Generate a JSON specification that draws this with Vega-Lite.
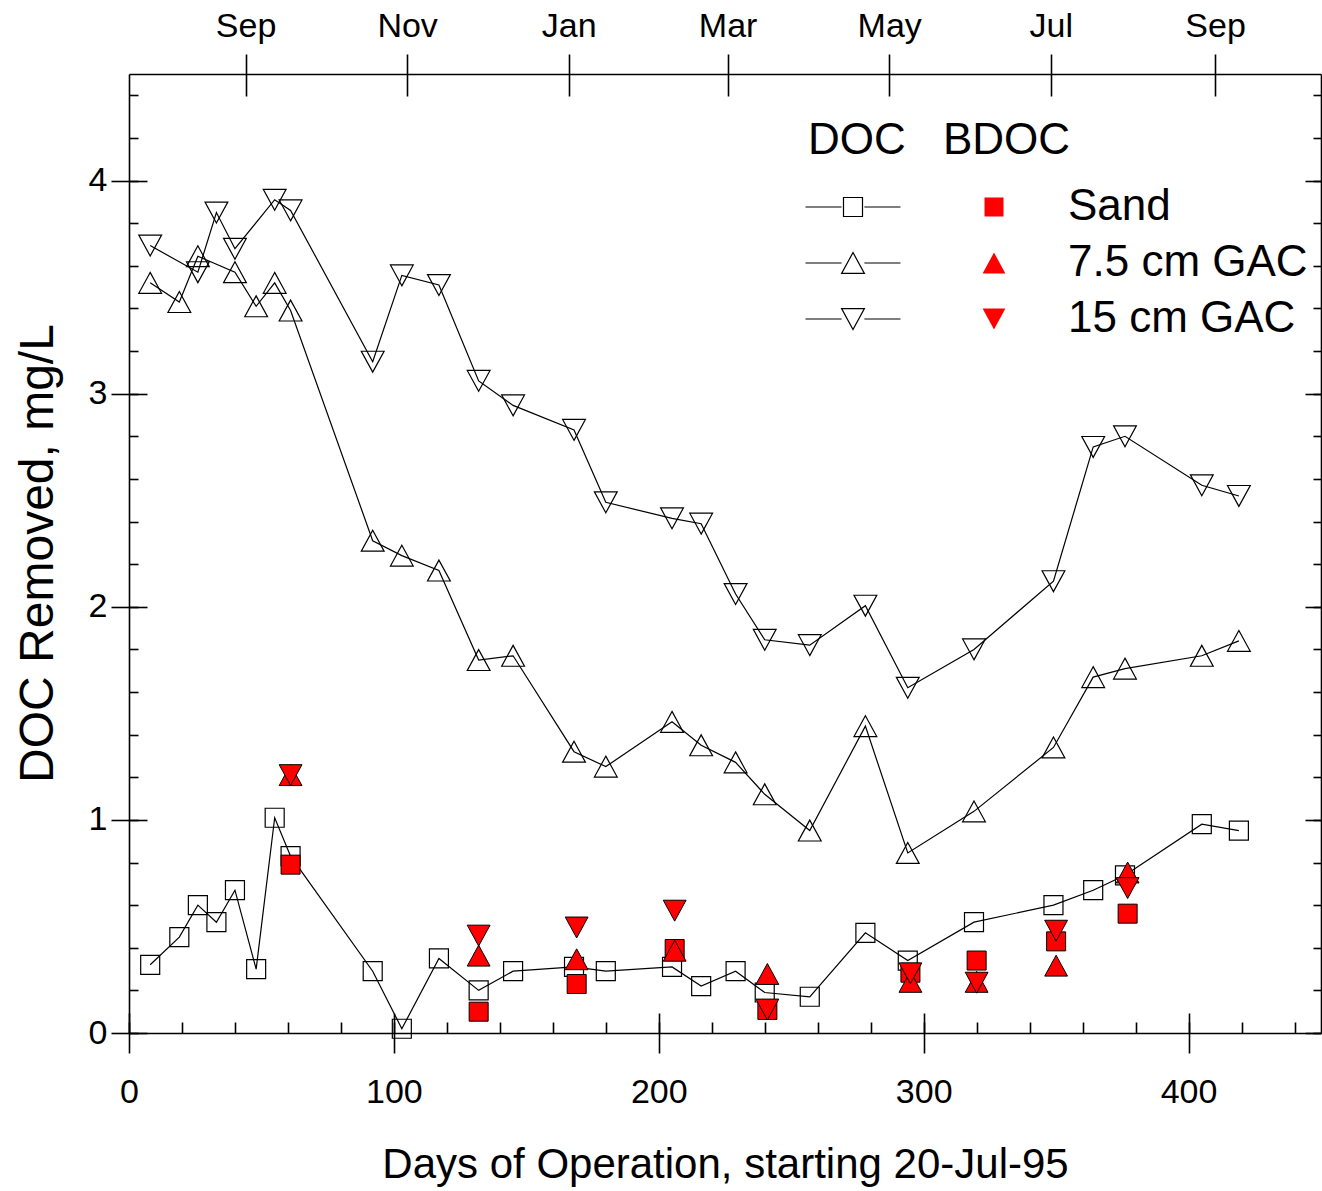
{
  "$schema": "https://vega.github.io/schema/vega-lite/v6.json",
  "width": 1192,
  "height": 959,
  "autosize": {"type": "none"},
  "padding": {"left": 129, "top": 74, "right": 1, "bottom": 158},
  "background": "white",
  "config": {
    "view": {"stroke": null},
    "font": "Liberation Sans",
    "axis": {
      "labelFont": "Liberation Sans",
      "titleFont": "Liberation Sans",
      "labelColor": "black",
      "titleColor": "black",
      "domainColor": "black",
      "domainWidth": 1.6,
      "tickColor": "black",
      "tickWidth": 1.6,
      "grid": false,
      "labelOverlap": false,
      "labelFlush": false,
      "titleFontWeight": "normal"
    },
    "legend": {
      "labelFont": "Liberation Sans",
      "titleFont": "Liberation Sans",
      "labelColor": "black",
      "titleColor": "black",
      "titleFontWeight": "normal",
      "padding": 0
    }
  },
  "datasets": {
    "doc": [
      {"day": 8, "filter": "Sand", "doc": 0.32},
      {"day": 19, "filter": "Sand", "doc": 0.45},
      {"day": 26, "filter": "Sand", "doc": 0.60},
      {"day": 33, "filter": "Sand", "doc": 0.52},
      {"day": 40, "filter": "Sand", "doc": 0.67},
      {"day": 48, "filter": "Sand", "doc": 0.30},
      {"day": 55, "filter": "Sand", "doc": 1.01},
      {"day": 61, "filter": "Sand", "doc": 0.83},
      {"day": 92, "filter": "Sand", "doc": 0.29},
      {"day": 103, "filter": "Sand", "doc": 0.02},
      {"day": 117, "filter": "Sand", "doc": 0.35},
      {"day": 132, "filter": "Sand", "doc": 0.20},
      {"day": 145, "filter": "Sand", "doc": 0.29},
      {"day": 168, "filter": "Sand", "doc": 0.31},
      {"day": 180, "filter": "Sand", "doc": 0.29},
      {"day": 205, "filter": "Sand", "doc": 0.31},
      {"day": 216, "filter": "Sand", "doc": 0.22},
      {"day": 229, "filter": "Sand", "doc": 0.29},
      {"day": 240, "filter": "Sand", "doc": 0.19},
      {"day": 257, "filter": "Sand", "doc": 0.17},
      {"day": 278, "filter": "Sand", "doc": 0.47},
      {"day": 294, "filter": "Sand", "doc": 0.34},
      {"day": 319, "filter": "Sand", "doc": 0.52},
      {"day": 349, "filter": "Sand", "doc": 0.60},
      {"day": 364, "filter": "Sand", "doc": 0.67},
      {"day": 376, "filter": "Sand", "doc": 0.74},
      {"day": 405, "filter": "Sand", "doc": 0.98},
      {"day": 419, "filter": "Sand", "doc": 0.95},
      {"day": 8, "filter": "7.5 cm GAC", "doc": 3.52},
      {"day": 19, "filter": "7.5 cm GAC", "doc": 3.43},
      {"day": 26, "filter": "7.5 cm GAC", "doc": 3.645},
      {"day": 40, "filter": "7.5 cm GAC", "doc": 3.57},
      {"day": 48, "filter": "7.5 cm GAC", "doc": 3.41},
      {"day": 55, "filter": "7.5 cm GAC", "doc": 3.52},
      {"day": 61, "filter": "7.5 cm GAC", "doc": 3.39},
      {"day": 92, "filter": "7.5 cm GAC", "doc": 2.31},
      {"day": 103, "filter": "7.5 cm GAC", "doc": 2.24},
      {"day": 117, "filter": "7.5 cm GAC", "doc": 2.17},
      {"day": 132, "filter": "7.5 cm GAC", "doc": 1.75},
      {"day": 145, "filter": "7.5 cm GAC", "doc": 1.77},
      {"day": 168, "filter": "7.5 cm GAC", "doc": 1.32},
      {"day": 180, "filter": "7.5 cm GAC", "doc": 1.25},
      {"day": 205, "filter": "7.5 cm GAC", "doc": 1.46},
      {"day": 216, "filter": "7.5 cm GAC", "doc": 1.35},
      {"day": 229, "filter": "7.5 cm GAC", "doc": 1.27},
      {"day": 240, "filter": "7.5 cm GAC", "doc": 1.12},
      {"day": 257, "filter": "7.5 cm GAC", "doc": 0.95},
      {"day": 278, "filter": "7.5 cm GAC", "doc": 1.44},
      {"day": 294, "filter": "7.5 cm GAC", "doc": 0.845},
      {"day": 319, "filter": "7.5 cm GAC", "doc": 1.04},
      {"day": 349, "filter": "7.5 cm GAC", "doc": 1.34},
      {"day": 364, "filter": "7.5 cm GAC", "doc": 1.67},
      {"day": 376, "filter": "7.5 cm GAC", "doc": 1.71},
      {"day": 405, "filter": "7.5 cm GAC", "doc": 1.77},
      {"day": 419, "filter": "7.5 cm GAC", "doc": 1.84},
      {"day": 8, "filter": "15 cm GAC", "doc": 3.695},
      {"day": 26, "filter": "15 cm GAC", "doc": 3.57},
      {"day": 33, "filter": "15 cm GAC", "doc": 3.85},
      {"day": 40, "filter": "15 cm GAC", "doc": 3.68},
      {"day": 55, "filter": "15 cm GAC", "doc": 3.91},
      {"day": 61, "filter": "15 cm GAC", "doc": 3.86},
      {"day": 92, "filter": "15 cm GAC", "doc": 3.15},
      {"day": 103, "filter": "15 cm GAC", "doc": 3.555},
      {"day": 117, "filter": "15 cm GAC", "doc": 3.51},
      {"day": 132, "filter": "15 cm GAC", "doc": 3.06},
      {"day": 145, "filter": "15 cm GAC", "doc": 2.945},
      {"day": 168, "filter": "15 cm GAC", "doc": 2.83},
      {"day": 180, "filter": "15 cm GAC", "doc": 2.49},
      {"day": 205, "filter": "15 cm GAC", "doc": 2.415},
      {"day": 216, "filter": "15 cm GAC", "doc": 2.39},
      {"day": 229, "filter": "15 cm GAC", "doc": 2.06},
      {"day": 240, "filter": "15 cm GAC", "doc": 1.845},
      {"day": 257, "filter": "15 cm GAC", "doc": 1.82},
      {"day": 278, "filter": "15 cm GAC", "doc": 2.005},
      {"day": 294, "filter": "15 cm GAC", "doc": 1.62},
      {"day": 319, "filter": "15 cm GAC", "doc": 1.80},
      {"day": 349, "filter": "15 cm GAC", "doc": 2.12},
      {"day": 364, "filter": "15 cm GAC", "doc": 2.75},
      {"day": 376, "filter": "15 cm GAC", "doc": 2.80},
      {"day": 405, "filter": "15 cm GAC", "doc": 2.57},
      {"day": 419, "filter": "15 cm GAC", "doc": 2.52}
    ],
    "bdoc": [
      {"day": 61, "filter": "Sand", "bdoc": 0.79},
      {"day": 61, "filter": "7.5 cm GAC", "bdoc": 1.21},
      {"day": 61, "filter": "15 cm GAC", "bdoc": 1.21},
      {"day": 132, "filter": "Sand", "bdoc": 0.10},
      {"day": 132, "filter": "7.5 cm GAC", "bdoc": 0.363},
      {"day": 132, "filter": "15 cm GAC", "bdoc": 0.457},
      {"day": 169, "filter": "Sand", "bdoc": 0.23},
      {"day": 169, "filter": "7.5 cm GAC", "bdoc": 0.346},
      {"day": 169, "filter": "15 cm GAC", "bdoc": 0.495},
      {"day": 206, "filter": "Sand", "bdoc": 0.394},
      {"day": 206, "filter": "7.5 cm GAC", "bdoc": 0.386},
      {"day": 206, "filter": "15 cm GAC", "bdoc": 0.574},
      {"day": 241, "filter": "Sand", "bdoc": 0.108},
      {"day": 241, "filter": "7.5 cm GAC", "bdoc": 0.277},
      {"day": 241, "filter": "15 cm GAC", "bdoc": 0.11},
      {"day": 295, "filter": "Sand", "bdoc": 0.283},
      {"day": 295, "filter": "7.5 cm GAC", "bdoc": 0.24},
      {"day": 295, "filter": "15 cm GAC", "bdoc": 0.28},
      {"day": 320, "filter": "Sand", "bdoc": 0.34},
      {"day": 320, "filter": "7.5 cm GAC", "bdoc": 0.24},
      {"day": 320, "filter": "15 cm GAC", "bdoc": 0.236},
      {"day": 350, "filter": "Sand", "bdoc": 0.43},
      {"day": 350, "filter": "7.5 cm GAC", "bdoc": 0.316},
      {"day": 350, "filter": "15 cm GAC", "bdoc": 0.48},
      {"day": 377, "filter": "Sand", "bdoc": 0.56},
      {"day": 377, "filter": "7.5 cm GAC", "bdoc": 0.753},
      {"day": 377, "filter": "15 cm GAC", "bdoc": 0.68}
    ]
  },
  "layer": [
    {
      "data": {"name": "doc"},
      "transform": [{"filter": "datum.filter === 'Sand'"}],
      "mark": {"type": "line", "strokeWidth": 1.2},
      "encoding": {
        "x": {
          "field": "day", "type": "quantitative",
          "scale": {"domain": [0, 450], "nice": false, "zero": false},
          "axis": {
            "orient": "bottom",
            "values": [0, 100, 200, 300, 400],
            "tickSize": 20,
            "labelPadding": 49,
            "labelBaseline": "alphabetic",
            "labelFontSize": 34,
            "title": "Days of Operation, starting 20-Jul-95",
            "titleFontSize": 42,
            "titleY": 144,
            "titleBaseline": "alphabetic"
          }
        },
        "y": {
          "field": "doc", "type": "quantitative",
          "scale": {"domain": [0, 4.5], "nice": false, "zero": false},
          "axis": {
            "orient": "left",
            "values": [0, 1, 2, 3, 4],
            "tickSize": 18,
            "labelPadding": 4,
            "labelFontSize": 34,
            "title": "DOC Removed, mg/L",
            "titleFontSize": 48,
            "titleX": -77,
            "titleY": 479,
            "titleAngle": -90,
            "titleBaseline": "alphabetic"
          }
        },
        "color": {
          "field": "filter", "type": "nominal",
          "scale": {"domain": ["Sand", "7.5 cm GAC", "15 cm GAC"], "range": ["black", "black", "black"]},
          "legend": {
            "title": null,
            "orient": "none",
            "legendX": 679,
            "legendY": 111,
            "labelFontSize": 44,
            "labelExpr": "' '",
            "labelLimit": 0,
            "symbolType": "M-5,0H-1.2M1.2,0H5",
            "symbolSize": 361,
            "symbolOffset": 23,
            "symbolStrokeWidth": 1.2,
            "symbolStrokeColor": "black",
            "rowPadding": 12
          }
        }
      }
    },
    {
      "data": {"name": "doc"},
      "transform": [{"filter": "datum.filter === '7.5 cm GAC'"}],
      "mark": {"type": "line", "strokeWidth": 1.2},
      "encoding": {
        "x": {
          "field": "day", "type": "quantitative",
          "scale": {"domain": [0, 450], "nice": false, "zero": false},
          "axis": {
            "orient": "bottom",
            "values": [0, 100, 200, 300, 400],
            "tickSize": -20,
            "labels": false,
            "domain": false,
            "title": null
          }
        },
        "y": {
          "field": "doc", "type": "quantitative",
          "scale": {"domain": [0, 4.5], "nice": false, "zero": false},
          "axis": {
            "orient": "left",
            "values": [0, 1, 2, 3, 4],
            "tickSize": -18,
            "labels": false,
            "domain": false,
            "title": null
          }
        },
        "color": {"field": "filter", "type": "nominal"}
      }
    },
    {
      "data": {"name": "doc"},
      "transform": [{"filter": "datum.filter === '15 cm GAC'"}],
      "mark": {"type": "line", "strokeWidth": 1.2},
      "encoding": {
        "x": {
          "field": "day", "type": "quantitative",
          "scale": {"domain": [0, 450], "nice": false, "zero": false},
          "axis": {
            "orient": "bottom",
            "values": [0, 20, 40, 60, 80, 100, 120, 140, 160, 180, 200, 220, 240, 260, 280, 300, 320, 340, 360, 380, 400, 420, 440],
            "tickSize": -11,
            "labels": false,
            "domain": false,
            "title": null
          }
        },
        "y": {
          "field": "doc", "type": "quantitative",
          "scale": {"domain": [0, 4.5], "nice": false, "zero": false},
          "axis": {
            "orient": "left",
            "values": [0, 0.2, 0.4, 0.6, 0.8, 1, 1.2, 1.4, 1.6, 1.8, 2, 2.2, 2.4, 2.6, 2.8, 3, 3.2, 3.4, 3.6, 3.8, 4, 4.2, 4.4],
            "tickSize": -9,
            "labels": false,
            "domain": false,
            "title": null
          }
        },
        "color": {"field": "filter", "type": "nominal"}
      }
    },
    {
      "data": {"name": "doc"},
      "mark": {"type": "point", "filled": false, "color": "black", "strokeWidth": 1.2, "size": 361, "opacity": 1},
      "encoding": {
        "x": {
          "field": "day", "type": "quantitative",
          "scale": {"domain": [0, 450], "nice": false, "zero": false},
          "axis": {
            "orient": "top",
            "values": [44, 105, 166, 226, 287, 348, 410],
            "labelExpr": "(datum.value == 44 || datum.value == 410) ? 'Sep' : datum.value == 105 ? 'Nov' : datum.value == 166 ? 'Jan' : datum.value == 226 ? 'Mar' : datum.value == 287 ? 'May' : 'Jul'",
            "tickSize": 20,
            "labelPadding": 18,
            "labelBaseline": "alphabetic",
            "labelFontSize": 34,
            "title": null
          }
        },
        "y": {
          "field": "doc", "type": "quantitative",
          "scale": {"domain": [0, 4.5], "nice": false, "zero": false},
          "axis": {
            "orient": "right",
            "values": [0, 1, 2, 3, 4],
            "labels": false,
            "tickSize": -16,
            "title": null
          }
        },
        "shape": {
          "field": "filter", "type": "nominal",
          "scale": {
            "domain": ["Sand", "7.5 cm GAC", "15 cm GAC"],
            "range": ["M-1,-1H1V1H-1Z", "M0,-1.1L1.2,1.1H-1.2Z", "M0,1.1L1.2,-1.1H-1.2Z"]
          },
          "legend": {
            "title": "DOC",
            "orient": "none",
            "legendX": 679,
            "legendY": 45,
            "titleFontSize": 44,
            "titlePadding": 22,
            "labelFontSize": 44,
            "labelExpr": "' '",
            "labelLimit": 0,
            "symbolSize": 361,
            "symbolOffset": 23,
            "symbolStrokeWidth": 1.2,
            "symbolStrokeColor": "black",
            "rowPadding": 12
          }
        }
      }
    },
    {
      "data": {"name": "bdoc"},
      "mark": {"type": "point", "filled": true, "fill": "#ff0000", "stroke": "black", "strokeWidth": 1, "size": 361, "opacity": 1},
      "encoding": {
        "x": {
          "field": "day", "type": "quantitative",
          "scale": {"domain": [0, 450], "nice": false, "zero": false},
          "axis": {
            "orient": "top",
            "values": [44, 105, 166, 226, 287, 348, 410],
            "tickSize": -22,
            "labels": false,
            "domain": false,
            "title": null
          }
        },
        "y": {
          "field": "bdoc", "type": "quantitative",
          "scale": {"domain": [0, 4.5], "nice": false, "zero": false},
          "axis": {
            "orient": "right",
            "values": [0, 0.2, 0.4, 0.6, 0.8, 1, 1.2, 1.4, 1.6, 1.8, 2, 2.2, 2.4, 2.6, 2.8, 3, 3.2, 3.4, 3.6, 3.8, 4, 4.2, 4.4],
            "tickSize": -8,
            "labels": false,
            "domain": false,
            "title": null
          }
        },
        "shape": {
          "field": "filter", "type": "nominal",
          "scale": {
            "domain": ["Sand", "7.5 cm GAC", "15 cm GAC"],
            "range": ["M-1,-1H1V1H-1Z", "M0,-1.1L1.2,1.1H-1.2Z", "M0,1.1L1.2,-1.1H-1.2Z"]
          },
          "legend": {
            "title": "BDOC",
            "orient": "none",
            "legendX": 814,
            "legendY": 45,
            "titleFontSize": 44,
            "titlePadding": 22,
            "labelFontSize": 44,
            "labelLimit": 0,
            "labelOffset": 52,
            "symbolSize": 361,
            "symbolOffset": 29,
            "symbolFillColor": "#ff0000",
            "symbolStrokeColor": "black",
            "symbolStrokeWidth": 1,
            "rowPadding": 12
          }
        }
      }
    }
  ],
  "resolve": {
    "scale": {"x": "independent", "y": "independent", "shape": "independent"},
    "axis": {"x": "independent", "y": "independent"},
    "legend": {"shape": "independent"}
  }
}
